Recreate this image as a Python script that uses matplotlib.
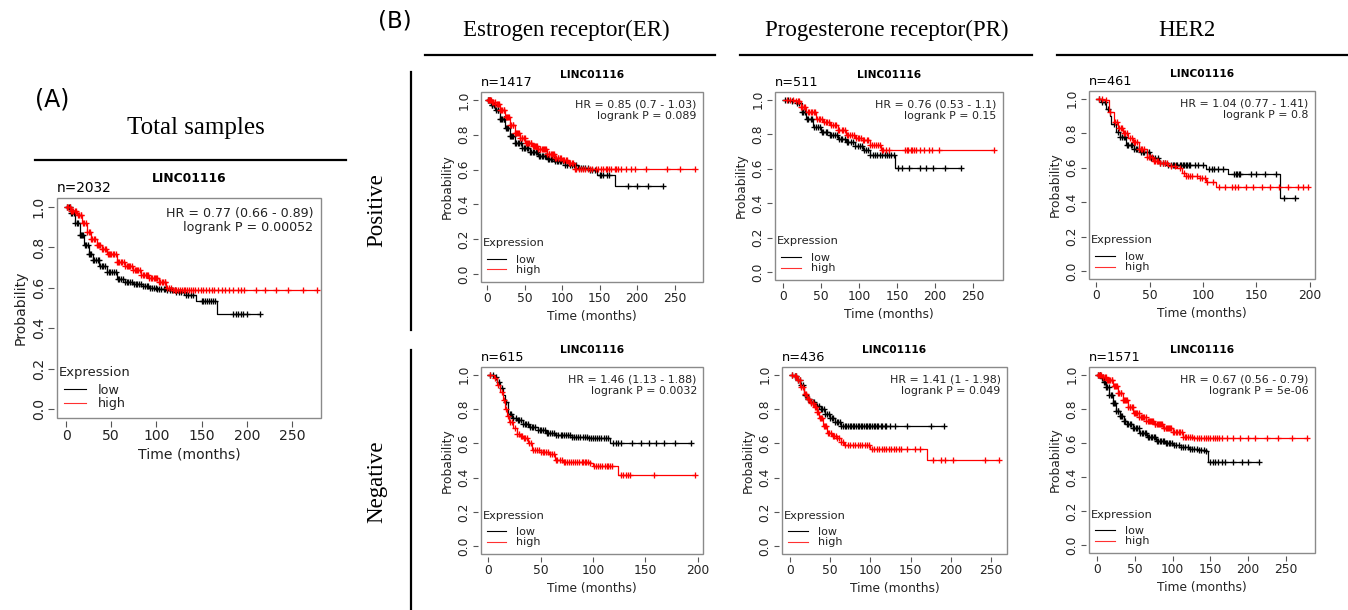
import numpy as np
import matplotlib.pyplot as plt
from matplotlib.lines import Line2D
from matplotlib.patches import Rectangle

# ---- data (time in months, survival probability) ----
gene = "LINC01116"

# (A) total samples
A_low_t = [0, 5, 10, 15, 20, 25, 30, 37, 45, 56, 65, 74, 85, 92, 100, 111, 122, 133, 144, 167, 215]
A_low_s = [1.0, 0.97, 0.92, 0.86, 0.81, 0.77, 0.74, 0.71, 0.68, 0.645, 0.63, 0.62, 0.61, 0.60, 0.595,
           0.587, 0.58, 0.565, 0.535, 0.47, 0.47]
A_low_c = [1, 3, 4, 6, 7, 9, 10, 12, 13, 15, 16, 18, 19, 21, 22, 24, 25, 27, 28, 30, 31, 33, 35, 36, 38,
           40, 41, 43, 45, 47, 49, 51, 53, 55, 57, 59, 61, 63, 65, 67, 69, 71, 73, 75, 77, 79, 81, 83,
           85, 87, 89, 91, 93, 95, 97, 99, 101, 103, 105, 108, 110, 112, 115, 117, 120, 122, 125, 127,
           130, 133, 135, 138, 140, 150, 152, 154, 156, 158, 160, 162, 165, 185, 188, 190, 193, 196,
           200, 215]
A_high_t = [0, 5, 12, 18, 23, 28, 34, 40, 45, 56, 65, 74, 83, 92, 103, 111, 118, 278]
A_high_s = [1.0, 0.98, 0.96, 0.92, 0.876, 0.84, 0.81, 0.79, 0.77, 0.73, 0.71, 0.686, 0.665, 0.648,
            0.628, 0.60, 0.59, 0.59]
A_high_c = [1, 2, 4, 5, 7, 8, 10, 11, 13, 14, 16, 17, 19, 20, 22, 23, 25, 26, 28, 29, 31, 32, 34, 35,
            37, 38, 40, 41, 43, 44, 46, 47, 49, 50, 52, 53, 55, 56, 58, 59, 61, 62, 64, 65, 67, 68, 70,
            71, 73, 74, 76, 77, 79, 80, 82, 83, 85, 86, 88, 89, 91, 92, 94, 95, 97, 98, 100, 101, 103,
            104, 106, 107, 109, 110, 112, 114, 116, 118, 120, 122, 124, 126, 128, 130, 132, 134, 136,
            138, 140, 143, 146, 149, 152, 155, 158, 161, 164, 168, 172, 176, 180, 185, 190, 193, 197,
            210, 220, 232, 245, 262, 278]

# (B) ER positive
ERp_low_t = [0, 5, 11, 17, 24, 30, 37, 46, 57, 68, 80, 90, 104, 121, 135, 146, 170, 234]
ERp_low_s = [1.0, 0.97, 0.94, 0.89, 0.84, 0.79, 0.755, 0.726, 0.70, 0.68, 0.663, 0.65, 0.624, 0.61,
             0.60, 0.568, 0.504, 0.504]
ERp_low_c = [1, 3, 4, 6, 7, 9, 10, 12, 14, 15, 17, 18, 20, 22, 23, 25, 27, 28, 30, 32, 33, 35, 37, 39,
             41, 43, 45, 47, 49, 51, 53, 55, 57, 59, 61, 63, 65, 67, 69, 71, 73, 75, 77, 79, 81, 83, 85,
             87, 89, 91, 93, 95, 97, 99, 101, 104, 107, 110, 113, 116, 119, 122, 125, 128, 131, 134,
             137, 140, 144, 150, 152, 155, 160, 163, 188, 200, 215, 234]
ERp_high_t = [0, 6, 11, 17, 24, 30, 37, 44, 51, 60, 68, 80, 90, 100, 108, 117, 277]
ERp_high_s = [1.0, 0.99, 0.977, 0.94, 0.90, 0.855, 0.81, 0.78, 0.755, 0.735, 0.716, 0.69, 0.668, 0.655,
              0.64, 0.606, 0.606]
ERp_high_c = [1, 2, 4, 5, 7, 8, 10, 11, 13, 14, 16, 17, 19, 20, 22, 23, 25, 26, 28, 29, 31, 32, 34, 35,
              37, 38, 40, 41, 43, 44, 46, 47, 49, 50, 52, 53, 55, 56, 58, 59, 61, 62, 64, 65, 67, 68,
              70, 71, 73, 74, 76, 77, 79, 80, 82, 83, 85, 86, 88, 89, 91, 92, 94, 95, 97, 99, 101, 103,
              105, 107, 109, 111, 113, 115, 117, 119, 122, 125, 128, 131, 134, 137, 140, 145, 148, 152,
              155, 158, 160, 163, 165, 170, 172, 175, 178, 185, 192, 197, 212, 240, 257, 277]

# (B) PR positive
PRp_low_t = [0, 10, 17, 24, 30, 39, 50, 61, 72, 83, 95, 105, 114, 147, 235]
PRp_low_s = [1.0, 0.99, 0.98, 0.93, 0.89, 0.84, 0.815, 0.795, 0.775, 0.756, 0.73, 0.707, 0.678, 0.604, 0.604]
PRp_low_c = [2, 6, 12, 18, 21, 24, 26, 28, 31, 33, 36, 38, 41, 43, 46, 48, 51, 53, 56, 58, 61, 63, 66,
             68, 71, 73, 76, 78, 81, 84, 86, 89, 92, 95, 98, 101, 104, 106, 109, 112, 115, 118, 121,
             124, 127, 130, 134, 137, 140, 142, 146, 152, 157, 166, 180, 188, 198, 214, 235]
PRp_high_t = [0, 10, 17, 23, 30, 43, 52, 61, 72, 83, 95, 105, 114, 129, 277]
PRp_high_s = [1.0, 0.998, 0.99, 0.96, 0.93, 0.89, 0.87, 0.853, 0.825, 0.795, 0.78, 0.766, 0.736, 0.707, 0.707]
PRp_high_c = [5, 9, 13, 17, 19, 21, 23, 25, 27, 29, 32, 34, 36, 38, 40, 42, 45, 47, 49, 51, 54, 56, 58,
              60, 63, 65, 68, 70, 72, 74, 77, 79, 82, 84, 86, 88, 91, 93, 96, 98, 100, 102, 105, 107,
              110, 112, 115, 117, 120, 122, 125, 127, 130, 132, 136, 140, 160, 163, 165, 168, 170, 173,
              175, 180, 186, 192, 196, 205, 278]

# (B) HER2 positive
HERp_low_t = [0, 4, 9, 12.5, 14, 18, 22, 28, 35, 41, 50, 59, 66, 103, 123, 172, 189]
HERp_low_s = [1.0, 0.98, 0.94, 0.90, 0.856, 0.81, 0.78, 0.73, 0.71, 0.693, 0.655, 0.627, 0.617, 0.594,
              0.563, 0.425, 0.425]
HERp_low_c = [2, 5, 8, 11, 16, 20, 22, 24, 26, 27, 29, 30, 32, 33, 35, 37, 38, 40, 42, 44, 45, 47, 49,
              51, 53, 55, 58, 60, 62, 64, 67, 70, 72, 73, 75, 76, 78, 79, 81, 82, 84, 85, 87, 88, 92,
              95, 100, 106, 108, 110, 114, 119, 129, 131, 132, 134, 135, 145, 150, 158, 168, 176, 186]
HERp_high_t = [0, 6, 12, 16, 20, 25, 30, 34, 40, 47, 53, 59, 67, 75, 80, 84, 97, 103, 112, 198]
HERp_high_s = [1.0, 0.99, 0.923, 0.866, 0.83, 0.80, 0.77, 0.75, 0.71, 0.665, 0.64, 0.627, 0.61, 0.598,
               0.57, 0.55, 0.54, 0.52, 0.49, 0.487]
HERp_high_c = [2, 5, 9, 13, 17, 19, 21, 23, 24, 26, 27, 29, 31, 33, 35, 36, 38, 40, 42, 43, 45, 47, 49,
               50, 52, 54, 55, 57, 58, 60, 62, 64, 66, 70, 74, 78, 82, 84, 86, 88, 90, 94, 97, 99, 102,
               104, 109, 115, 121, 127, 130, 133, 140, 147, 155, 163, 171, 180, 189, 194, 198]

# (B) ER negative
ERn_low_t = [0, 5, 8, 11, 14, 16, 19, 23, 27, 33, 39, 47, 55, 64, 80, 96, 116, 194]
ERn_low_s = [1.0, 0.986, 0.96, 0.92, 0.88, 0.84, 0.77, 0.75, 0.735, 0.715, 0.696, 0.675, 0.66, 0.648,
             0.638, 0.629, 0.60, 0.60]
ERn_low_c = [2, 4, 7, 10, 13, 17, 21, 22, 24, 26, 28, 29, 31, 33, 35, 36, 38, 40, 42, 43, 45, 47, 49,
             50, 52, 54, 56, 57, 59, 61, 63, 65, 67, 69, 70, 72, 74, 76, 78, 80, 82, 84, 86, 88, 90,
             92, 94, 96, 98, 100, 102, 104, 106, 108, 110, 112, 114, 119, 122, 124, 127, 137, 146, 153,
             160, 168, 178, 194]
ERn_high_t = [0, 5, 8, 11, 14, 16, 18, 20, 24, 27, 30, 33, 38, 42, 50, 58, 64, 71, 96, 100, 124, 197]
ERn_high_s = [1.0, 0.98, 0.94, 0.90, 0.85, 0.80, 0.76, 0.725, 0.69, 0.657, 0.64, 0.63, 0.60, 0.56, 0.55,
              0.54, 0.503, 0.493, 0.484, 0.47, 0.416, 0.416]
ERn_high_c = [2, 6, 9, 13, 15, 17, 19, 21, 23, 25, 27, 29, 31, 32, 34, 35, 37, 39, 41, 43, 45, 46, 48,
              50, 52, 53, 55, 57, 59, 61, 63, 65, 66, 68, 70, 72, 73, 75, 77, 79, 81, 83, 85, 87, 89,
              90, 92, 93, 95, 97, 101, 103, 105, 107, 109, 111, 113, 114, 116, 118, 127, 129, 131, 133,
              135, 158, 197]

# (B) PR negative
PRn_low_t = [0, 5, 9, 13, 17, 21, 25, 31, 38, 44, 50, 56, 63, 192]
PRn_low_s = [1.0, 0.99, 0.97, 0.94, 0.88, 0.86, 0.84, 0.82, 0.80, 0.77, 0.75, 0.725, 0.703, 0.703]
PRn_low_c = [2, 6, 8, 10, 12, 14, 16, 18, 20, 22, 24, 26, 28, 30, 32, 34, 36, 38, 40, 42, 44, 46, 48,
             50, 52, 54, 56, 58, 60, 62, 64, 66, 68, 70, 72, 74, 76, 78, 80, 82, 84, 86, 88, 90, 92,
             94, 96, 98, 100, 102, 104, 106, 108, 110, 113, 115, 118, 120, 125, 130, 145, 175, 192]
PRn_high_t = [0, 5, 9, 13, 17, 21, 25, 30, 33, 36, 41, 46, 52, 58, 63, 67, 100, 170, 260]
PRn_high_s = [1.0, 0.99, 0.97, 0.93, 0.89, 0.86, 0.835, 0.81, 0.78, 0.745, 0.70, 0.66, 0.645, 0.63, 0.61,
              0.59, 0.567, 0.504, 0.504]
PRn_high_c = [2, 6, 8, 10, 12, 14, 16, 18, 20, 22, 24, 26, 28, 29, 31, 32, 34, 35, 37, 38, 40, 42, 44,
              45, 47, 49, 51, 53, 55, 57, 59, 61, 64, 66, 69, 72, 75, 78, 81, 84, 87, 90, 93, 96, 98,
              102, 105, 108, 111, 114, 117, 120, 123, 126, 129, 132, 135, 138, 145, 156, 162, 178, 188,
              193, 203, 243, 260]

# (B) HER2 negative
HERn_low_t = [0, 6, 9, 12, 16, 21, 25, 30, 35, 39, 47, 56, 66, 78, 90, 100, 111, 122, 133, 144, 147, 215]
HERn_low_s = [1.0, 0.98, 0.96, 0.93, 0.88, 0.834, 0.79, 0.757, 0.73, 0.71, 0.685, 0.66, 0.635, 0.614,
              0.598, 0.585, 0.575, 0.566, 0.558, 0.55, 0.49, 0.49]
HERn_low_c = [1, 3, 4, 6, 7, 9, 10, 12, 13, 15, 16, 18, 19, 21, 22, 24, 25, 27, 28, 30, 31, 33, 35, 37,
              39, 41, 43, 45, 47, 49, 51, 53, 55, 57, 59, 61, 63, 65, 67, 69, 71, 73, 75, 77, 79, 81,
              83, 85, 87, 89, 91, 93, 95, 97, 99, 102, 105, 108, 111, 114, 117, 120, 123, 126, 129, 132,
              135, 138, 141, 144, 150, 153, 156, 160, 165, 170, 180, 192, 200, 215]
HERn_high_t = [0, 6, 12, 21, 27, 34, 41, 48, 56, 65, 75, 87, 100, 114, 127, 279]
HERn_high_s = [1.0, 0.985, 0.967, 0.933, 0.89, 0.853, 0.81, 0.776, 0.75, 0.728, 0.71, 0.69, 0.665, 0.637,
               0.627, 0.627]
HERn_high_c = [1, 2, 4, 5, 7, 8, 10, 11, 13, 14, 16, 17, 19, 20, 22, 23, 25, 26, 28, 29, 31, 32, 34, 35,
               37, 38, 40, 41, 43, 44, 46, 47, 49, 50, 52, 53, 55, 56, 58, 59, 61, 62, 64, 65, 67, 68,
               70, 71, 73, 74, 76, 77, 79, 80, 82, 83, 85, 86, 88, 89, 91, 92, 94, 95, 97, 98, 100, 102,
               104, 106, 108, 110, 112, 114, 116, 118, 120, 123, 126, 129, 132, 135, 138, 141, 144, 147,
               150, 153, 156, 159, 162, 165, 172, 180, 190, 200, 210, 225, 240, 258, 279]

n_labels = ["n=2032", "n=1417", "n=511", "n=461", "n=615", "n=436", "n=1571"]
hr_labels = ["HR = 0.77 (0.66 - 0.89)", "HR = 0.85 (0.7 - 1.03)", "HR = 0.76 (0.53 - 1.1)",
             "HR = 1.04 (0.77 - 1.41)", "HR = 1.46 (1.13 - 1.88)", "HR = 1.41 (1 - 1.98)",
             "HR = 0.67 (0.56 - 0.79)"]
p_labels = ["logrank P = 0.00052", "logrank P = 0.089", "logrank P = 0.15", "logrank P = 0.8",
            "logrank P = 0.0032", "logrank P = 0.049", "logrank P = 5e-06"]
col_titles = ["Estrogen receptor(ER)", "Progesterone receptor(PR)", "HER2"]
row_titles = ["Positive", "Negative"]

W, H = 1348, 610
SERIF = "Liberation Serif"
TXT = "#222222"


def rect(l, r, t, b):
    # pixel box -> figure fraction
    return [l / W, 1 - b / H, (r - l) / W, (b - t) / H]


def km_panel(fig, box, low, high, n_txt, hr_txt, p_txt, xlim, xmax, k):
    ax = fig.add_axes(box)
    for (t, s, c), color in zip((low, high), ("black", "red")):
        t, s = np.asarray(t, float), np.asarray(s, float)
        ax.step(t, s, where="post", color=color, lw=0.9, zorder=3)
        idx = np.searchsorted(t, c, side="right") - 1
        ax.plot(c, s[idx], ls="none", marker="+", ms=3.9 * k, mew=0.95, color=color, zorder=3)

    ax.set_xlim(*xlim)
    ax.set_ylim(-0.045, 1.045)
    ax.set_xticks(np.arange(0, xmax + 1, 50))
    yt = np.arange(0, 1.01, 0.2)
    ax.set_yticks(yt)
    ax.set_yticklabels([f"{v:.1f}" for v in yt])

    fs = 8.8 * k
    for side in ("top", "right"):
        ax.spines[side].set_visible(False)
    for side in ("left", "bottom"):
        ax.spines[side].set_position(("outward", 2.5))
        ax.spines[side].set_visible(False)
    ax.add_patch(Rectangle((0, 0), 1, 1, transform=ax.transAxes, fill=False,
                           ec="#8a8a8a", lw=1.0, clip_on=False))
    ax.tick_params(direction="out", length=3.5 * k, width=0.8, color="#555555",
                   labelsize=fs, labelcolor=TXT, pad=1.5)
    ax.tick_params(axis="y", labelrotation=90)
    plt.setp(ax.get_yticklabels(), va="center")
    ax.set_xlabel("Time (months)", fontsize=fs, color=TXT, labelpad=3)
    ax.set_ylabel("Probability", fontsize=fs, color=TXT, labelpad=3)

    ax.annotate(n_txt, (0, 1), xycoords="axes fraction", xytext=(0, 2),
                textcoords="offset points", ha="left", va="bottom", fontsize=9.3 * min(k, 1.06))
    ax.annotate(gene, (0.5, 1), xycoords="axes fraction", xytext=(0, 12.5 * k),
                textcoords="offset points", ha="center", va="center",
                fontsize=7.7 * k, fontweight="bold")
    ax.text(0.972, 0.96, hr_txt + "\n" + p_txt, transform=ax.transAxes, ha="right", va="top",
            fontsize=7.9 * k, color=TXT, linespacing=1.15)

    # legend: title on its own, entries indented under it
    ax.text(0.008, 0.205, "Expression", transform=ax.transAxes, ha="left", va="center",
            fontsize=8.2 * k, color=TXT)
    handles = [Line2D([], [], color="black", lw=0.8), Line2D([], [], color="#ff3030", lw=0.8)]
    ax.legend(handles, ["low", "high"], loc="lower left", bbox_to_anchor=(0.027, 0.035),
              frameon=False, fontsize=8.0 * k, handlelength=1.75, handletextpad=0.9,
              labelspacing=0.05, borderpad=0, borderaxespad=0, labelcolor=TXT)
    return ax


fig = plt.figure(figsize=(W / 100, H / 100), dpi=100)

# panel A
km_panel(fig, rect(57, 321, 198, 418), (A_low_t, A_low_s, A_low_c), (A_high_t, A_high_s, A_high_c),
         n_labels[0], hr_labels[0], p_labels[0], (-10, 282), 250, 1.15)

# panel B grid
panels = [
    (rect(481, 703, 92, 282), (ERp_low_t, ERp_low_s, ERp_low_c), (ERp_high_t, ERp_high_s, ERp_high_c), (-8, 288), 250),
    (rect(775, 1003, 92, 280), (PRp_low_t, PRp_low_s, PRp_low_c), (PRp_high_t, PRp_high_s, PRp_high_c), (-11, 290), 250),
    (rect(1089, 1315, 91, 279), (HERp_low_t, HERp_low_s, HERp_low_c), (HERp_high_t, HERp_high_s, HERp_high_c), (-7, 205), 200),
    (rect(481, 703, 367, 554), (ERn_low_t, ERn_low_s, ERn_low_c), (ERn_high_t, ERn_high_s, ERn_high_c), (-7, 205), 200),
    (rect(782, 1007, 367, 554), (PRn_low_t, PRn_low_s, PRn_low_c), (PRn_high_t, PRn_high_s, PRn_high_c), (-10, 270), 250),
    (rect(1089, 1315, 367, 553), (HERn_low_t, HERn_low_s, HERn_low_c), (HERn_high_t, HERn_high_s, HERn_high_c), (-11, 289), 250),
]
for i, (box, low, high, xlim, xmax) in enumerate(panels, start=1):
    km_panel(fig, box, low, high, n_labels[i], hr_labels[i], p_labels[i], xlim, xmax, 1.0)

# headers and separator lines
def px(x, y):
    return x / W, 1 - y / H

fig.text(*px(35, 100), "(A)", fontsize=17, ha="left", va="center")
fig.text(*px(196, 128), "Total samples", fontsize=18, family=SERIF, ha="center", va="center")
fig.add_artist(Line2D([35 / W, 346 / W], [1 - 160 / H] * 2, color="black", lw=1.6))

fig.text(*px(378, 21), "(B)", fontsize=16.5, ha="left", va="center")
for title, cx, (x0, x1) in zip(col_titles, (566, 887, 1187), ((425, 715), (740, 1032), (1057, 1348))):
    fig.text(*px(cx, 30), title, fontsize=16.5, family=SERIF, ha="center", va="center")
    fig.add_artist(Line2D([x0 / W, x1 / W], [1 - 55 / H] * 2, color="black", lw=1.6))

for title, cy, (y0, y1) in zip(row_titles, (210, 482), ((72, 330), (350, 610))):
    fig.text(*px(377, cy), title, fontsize=16.5, family=SERIF, rotation=90, ha="center", va="center")
    fig.add_artist(Line2D([411 / W] * 2, [1 - y0 / H, 1 - y1 / H], color="black", lw=1.6))

fig.savefig("out.png", dpi=100)
